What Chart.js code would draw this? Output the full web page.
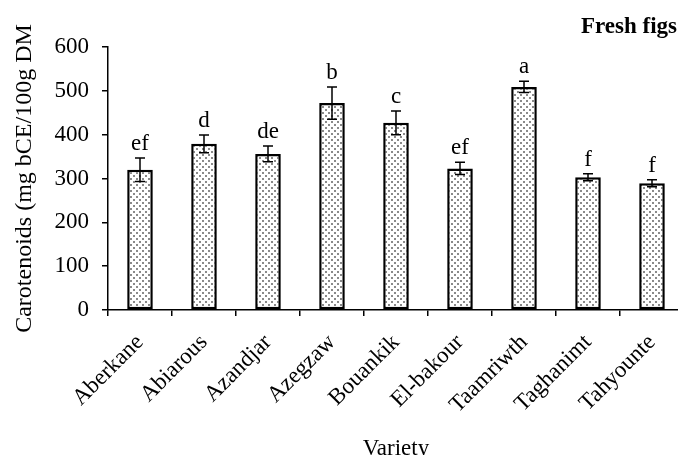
<!DOCTYPE html>
<html>
<head>
<meta charset="utf-8">
<script src="https://cdn.jsdelivr.net/npm/chart.js@4"></script>
<style>
  html, body { margin: 0; padding: 0; background: #fff; overflow: hidden; }
  #wrap { width: 678px; height: 455px; overflow: hidden; position: relative; }
</style>
</head>
<body>
<div id="wrap"><canvas id="grafik" width="692" height="470"></canvas></div>
<script>
// degerler
var cesitler = ['Aberkane', 'Abiarous', 'Azandjar', 'Azegzaw', 'Bouankik', 'El-bakour', 'Taamriwth', 'Taghanimt', 'Tahyounte'];
var karotenoid = [320, 379, 356, 472, 427, 323, 509, 303, 289];
var hatalar = [27, 20, 18, 37, 27, 14, 13, 8, 8];
var harfler = ['ef', 'd', 'de', 'b', 'c', 'ef', 'a', 'f', 'f'];
var yTikler = [0, 100, 200, 300, 400, 500, 600];

var yaziTipi = "'Liberation Serif', 'Times New Roman', serif";

/* noktali dolgu deseni */
function desenYap() {
  var c = document.createElement('canvas');
  c.width = 6; c.height = 6;
  var x = c.getContext('2d');
  x.fillStyle = '#ffffff';
  x.fillRect(0, 0, 6, 6);
  x.fillStyle = '#8a8a8a';
  x.fillRect(1, 1, 2, 2);
  x.fillRect(4, 4, 2, 2);
  var ctx = document.getElementById('grafik').getContext('2d');
  return ctx.createPattern(c, 'repeat');
}

/* hata cubuklari ve harfler */
var hataCubuguEklentisi = {
  id: 'hataCubugu',
  afterDatasetsDraw: function (chart) {
    var ctx = chart.ctx;
    var y = chart.scales.y;
    var meta = chart.getDatasetMeta(0);
    ctx.save();
    ctx.strokeStyle = '#000';
    ctx.lineWidth = 1.5;
    for (var i = 0; i < karotenoid.length; i++) {
      var x = meta.data[i].x;
      var ust = y.getPixelForValue(karotenoid[i] + hatalar[i]);
      var alt = y.getPixelForValue(karotenoid[i] - hatalar[i]);
      ctx.beginPath();
      ctx.moveTo(x, ust); ctx.lineTo(x, alt);
      ctx.moveTo(x - 5, ust); ctx.lineTo(x + 5, ust);
      ctx.moveTo(x - 5, alt); ctx.lineTo(x + 5, alt);
      ctx.stroke();

      ctx.fillStyle = '#000';
      ctx.font = '23px ' + yaziTipi;
      ctx.textAlign = 'center';
      ctx.textBaseline = 'alphabetic';
      ctx.fillText(harfler[i], x, ust - 8);
    }
    // baslik
    ctx.font = 'bold 23px ' + yaziTipi;
    ctx.textAlign = 'right';
    ctx.fillText('Fresh figs', 677, 33);
    ctx.restore();
  }
};

var myChart = new Chart(document.getElementById('grafik'), {
  type: 'bar',
  data: {
    labels: cesitler,
    datasets: [{
      data: karotenoid,
      backgroundColor: desenYap(),
      borderColor: '#000',
      borderWidth: 2.5,
      borderSkipped: false,
      barPercentage: 0.4,
      categoryPercentage: 1
    }]
  },
  options: {
    responsive: false,
    animation: false,
    devicePixelRatio: 1,
    layout: { padding: { top: 47, right: 8, left: 0, bottom: 0 } },
    plugins: { legend: { display: false }, tooltip: { enabled: false } },
    scales: {
      x: {
        grid: { display: true, drawOnChartArea: false, offset: true, tickLength: 6, color: '#000', lineWidth: 1.5 },
        border: { color: '#000', width: 1.5 },
        ticks: { color: '#000', font: { family: yaziTipi, size: 23 }, maxRotation: 45, minRotation: 45, padding: 13, autoSkip: false },
        title: { display: true, text: 'Variety', color: '#000', font: { family: yaziTipi, size: 23 }, padding: { top: 0, bottom: 7 } },
        afterFit: function (s) { s.height = 160; }
      },
      y: {
        min: 0, max: 600,
        afterBuildTicks: function (s) { s.ticks = yTikler.map(function (v) { return { value: v }; }); },
        grid: { display: true, drawOnChartArea: false, tickLength: 6, color: '#000', lineWidth: 1.5 },
        border: { color: '#000', width: 1.5 },
        ticks: { color: '#000', font: { family: yaziTipi, size: 23 }, padding: 13 },
        title: { display: true, text: 'Carotenoids (mg bCE/100g DM', color: '#000', font: { family: yaziTipi, size: 24 }, padding: { top: 10, bottom: 0 } },
        afterFit: function (s) { s.width = 108; }
      }
    }
  },
  plugins: [hataCubuguEklentisi]
});
</script>
</body>
</html>
